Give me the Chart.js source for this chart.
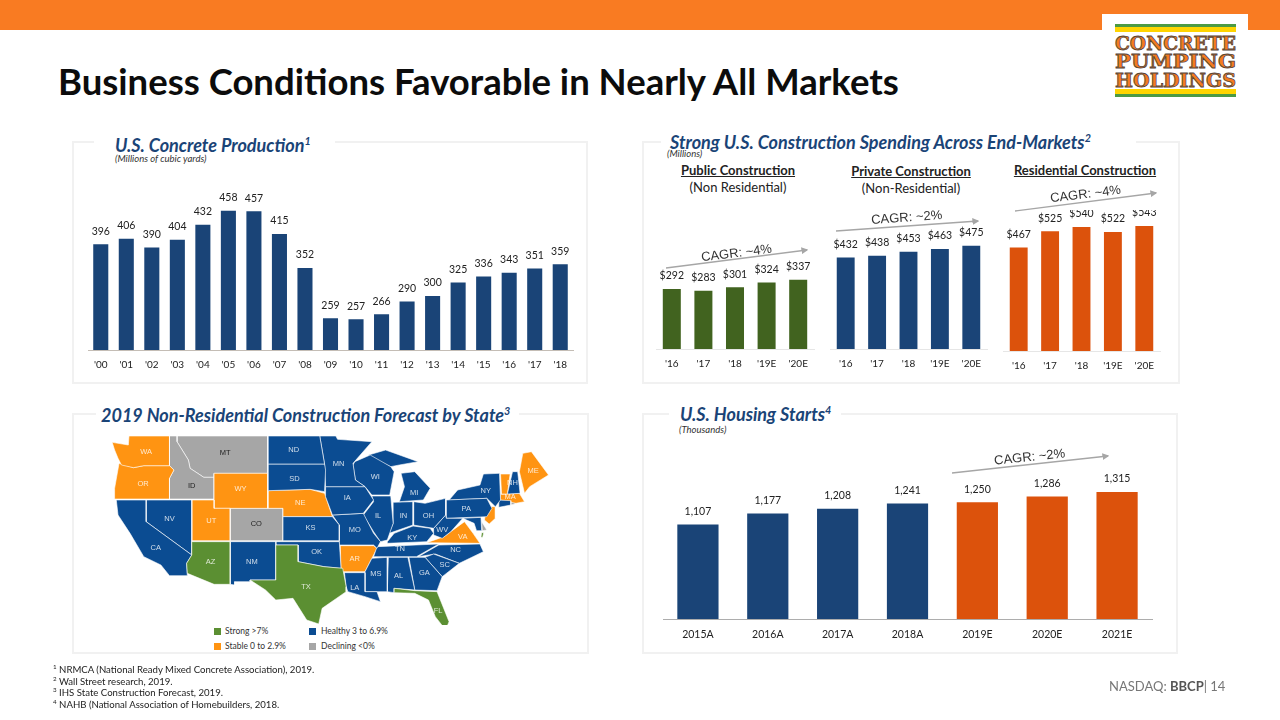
<!DOCTYPE html>
<html>
<head>
<meta charset="utf-8">
<title>Business Conditions Favorable in Nearly All Markets</title>
<script src="https://cdn.jsdelivr.net/npm/chart.js@4"></script>
<style>
  html, body { margin: 0; padding: 0; background: #fff; }
  #slide { position: relative; width: 1280px; height: 720px; overflow: hidden; font-family: Lato, sans-serif; color: #222; }
  #slide > * { position: absolute; }
  canvas { position: absolute; }
  .band { left: 0; top: 0; width: 1280px; height: 30px; background: #F97B22; }
  .panel { border: 2px solid #F1F1F1; box-sizing: border-box; }
  .gap { background: #fff; height: 6px; }
  h1 { margin: 0; left: 58px; top: 58px; font-size: 36.5px; font-weight: 700; color: #0c0c0c; white-space: nowrap; line-height: 46px; }
  .ptitle { font-weight: 700; font-style: italic; color: #1A4477; white-space: nowrap; line-height: 22px; font-size: 18px; }
  .ptitle sup { font-size: .6em; line-height: 0; }
  .unit { font-style: italic; font-size: 9.5px; color: #333; white-space: nowrap; line-height: 12px; }
  .sub { font-size: 13px; text-align: center; width: 170px; line-height: 16px; white-space: nowrap; }
  .sub.head { font-weight: 700; text-decoration: underline; font-size: 13px; }
  .sw { width: 7px; height: 7px; }
  .lg { font-size: 8.5px; line-height: 12px; white-space: nowrap; color: #333; }
  .foot { left: 53px; top: 664px; font-size: 9.6px; line-height: 11.6px; white-space: nowrap; color: #222; }
  .foot sup { font-size: .65em; line-height: 0; }
  .page { left: 1109px; top: 678px; font-size: 13px; line-height: 16px; color: #777; white-space: nowrap; }
  .page b { color: #555; }
</style>
</head>
<body>
<div id="slide">
  <div class="band"></div>
  <h1>Business Conditions Favorable in Nearly All Markets</h1>

  <svg style="left:1102px;top:14px" width="146" height="92" viewBox="1102 14 146 92">
    <rect x="1102" y="14" width="146" height="92" fill="#fff"/>
    <rect x="1115" y="24" width="121" height="3" fill="#4C9A44"/>
    <rect x="1115" y="27" width="121" height="5" fill="#FFD400"/>
    <rect x="1115" y="89" width="121" height="5" fill="#FFD400"/>
    <rect x="1115" y="94" width="121" height="3" fill="#4C9A44"/>
    <g font-family="'DejaVu Serif'" font-weight="700" font-size="19" fill="#F47B20" stroke="#54443A" stroke-width="0.8">
      <text x="1115" y="50" textLength="121" lengthAdjust="spacingAndGlyphs">CONCRETE</text>
      <text x="1115" y="68" textLength="121" lengthAdjust="spacingAndGlyphs">PUMPING</text>
      <text x="1115" y="87" textLength="121" lengthAdjust="spacingAndGlyphs">HOLDINGS</text>
    </g>
  </svg>

  <!-- panel frames, white gaps sit behind the headings -->
  <div class="panel" style="left:72px;top:141px;width:516px;height:243px"></div>
  <div class="gap" style="left:94px;top:138px;width:241px"></div>
  <div class="panel" style="left:642px;top:141px;width:538px;height:243px"></div>
  <div class="gap" style="left:661px;top:138px;width:475px"></div>
  <div class="panel" style="left:72px;top:413px;width:517px;height:241px"></div>
  <div class="gap" style="left:96px;top:410px;width:423px"></div>
  <div class="panel" style="left:642px;top:413px;width:536px;height:241px"></div>
  <div class="gap" style="left:669px;top:410px;width:172px"></div>

  <div class="ptitle" style="left:115px;top:134px">U.S. Concrete Production<sup>1</sup></div>
  <div class="unit" style="left:115px;top:153px">(Millions of cubic yards)</div>
  <div class="ptitle" style="left:670px;top:131px">Strong U.S. Construction Spending Across End-Markets<sup>2</sup></div>
  <div class="unit" style="left:667px;top:148px">(Millions)</div>
  <div class="sub head" style="left:653px;top:162px">Public Construction</div>
  <div class="sub" style="left:653px;top:179px">(Non Residential)</div>
  <div class="sub head" style="left:826px;top:163px">Private Construction</div>
  <div class="sub" style="left:826px;top:180px">(Non-Residential)</div>
  <div class="sub head" style="left:1000px;top:162px">Residential Construction</div>
  <div class="ptitle" style="left:101px;top:404px">2019 Non-Residential Construction Forecast by State<sup>3</sup></div>
  <div class="ptitle" style="left:680px;top:403px">U.S. Housing Starts<sup>4</sup></div>
  <div class="unit" style="left:679px;top:424px">(Thousands)</div>

  <canvas id="mapChart"></canvas>
  <canvas id="concreteChart"></canvas>
  <canvas id="publicChart"></canvas>
  <canvas id="privateChart"></canvas>
  <canvas id="residentialChart"></canvas>
  <canvas id="housingChart"></canvas>

  <div class="sw" style="left:214px;top:628px;background:#5B8F32"></div>
  <div class="lg" style="left:225px;top:625px">Strong &gt;7%</div>
  <div class="sw" style="left:309px;top:628px;background:#0B4C92"></div>
  <div class="lg" style="left:321px;top:625px">Healthy 3 to 6.9%</div>
  <div class="sw" style="left:214px;top:643px;background:#FF9412"></div>
  <div class="lg" style="left:225px;top:640px">Stable 0 to 2.9%</div>
  <div class="sw" style="left:309px;top:643px;background:#A6A6A6"></div>
  <div class="lg" style="left:321px;top:640px">Declining &lt;0%</div>

  <svg style="left:0;top:0" width="1280" height="720" id="cagr">
    <defs>
      <marker id="head" viewBox="0 0 10 10" refX="8" refY="5" markerWidth="7" markerHeight="7" markerUnits="userSpaceOnUse" orient="auto">
        <path d="M0 0 L10 5 L0 10 Z" fill="#A6A6A6"/>
      </marker>
    </defs>
    <g stroke="#A6A6A6" stroke-width="1.4" marker-end="url(#head)">
      <line x1="666" y1="268" x2="807" y2="250" marker-end="url(#head)"/>
      <line x1="836" y1="231" x2="978" y2="221" marker-end="url(#head)"/>
      <line x1="1015" y1="211" x2="1156" y2="193" marker-end="url(#head)"/>
      <line x1="952" y1="473" x2="1108" y2="456" marker-end="url(#head)"/>
    </g>
    <g font-family="'Liberation Sans Narrow','Liberation Sans'" font-size="13" fill="#333" text-anchor="middle">
      <text transform="translate(737 257) rotate(-7)">CAGR: ~4%</text>
      <text transform="translate(907 221.5) rotate(-4)">CAGR: ~2%</text>
      <text transform="translate(1086 198) rotate(-7)">CAGR: ~4%</text>
      <text transform="translate(1030 461) rotate(-6)">CAGR: ~2%</text>
    </g>
  </svg>

  <div class="foot"><sup>1</sup> NRMCA (National Ready Mixed Concrete Association), 2019.<br><sup>2</sup> Wall Street research, 2019.<br><sup>3</sup> IHS State Construction Forecast, 2019.<br><sup>4</sup> NAHB (National Association of Homebuilders, 2018.</div>
  <div class="page">NASDAQ: <b>BBCP</b>| 14</div>
</div>

<script>
// -----------------------------------------------------------------------
// Chart data
// -----------------------------------------------------------------------
const concreteYears = ["'00","'01","'02","'03","'04","'05","'06","'07","'08","'09","'10","'11","'12","'13","'14","'15","'16","'17","'18"];
const concreteValues = [396,406,390,404,432,458,457,415,352,259,257,266,290,300,325,336,343,351,359];

const spendingYears = ["'16","'17","'18","'19E","'20E"];
const publicValues = [292,283,301,324,337];
const privateValues = [432,438,453,463,475];
const residentialValues = [467,525,540,522,543];

const housingYears = ['2015A','2016A','2017A','2018A','2019E','2020E','2021E'];
const housingValues = [1107,1177,1208,1241,1250,1286,1315];

const strongStates = ['AZ','TX','FL','VAS'];
const healthyStates = ['CA','NV','NM','ND','SD','KS','OK','MN','IA','MO','LA','WI','IL','MIU','MI','IN','OH','KY','TN','MS','AL','GA','SC','NC','WV','PA','NY','MD','NH','CT'];
const stableStates = ['WA','OR','UT','WY','NE','AR','VA','NJ','VT','ME','MA'];
const decliningStates = ['ID','MT','CO','DE','RI'];

// State outlines, in map units
const stateOutlines = {
  WA: [[123,127],[170,135],[172,108],[290,108],[290,197],[215,197],[185,203],[150,195],[140,175],[130,150]],
  OR: [[143,190],[185,203],[215,197],[290,197],[303,210],[290,235],[290,297],[130,297],[130,265]],
  ID: [[290,108],[312,108],[312,125],[345,180],[350,205],[390,232],[420,232],[420,297],[290,297],[290,235],[303,210],[290,197]],
  MT: [[312,108],[576,108],[576,220],[420,220],[420,232],[390,232],[350,205],[345,180],[312,125]],
  WY: [[420,220],[576,220],[576,325],[420,325]],
  CA: [[135,300],[222,300],[222,365],[355,465],[340,490],[342,527],[290,527],[265,495],[215,470],[175,400],[140,345]],
  NV: [[222,300],[355,300],[355,465],[222,365]],
  UT: [[355,300],[420,300],[420,325],[467,325],[467,422],[355,422]],
  AZ: [[355,425],[467,425],[467,553],[420,553],[342,520],[340,490],[355,465]],
  CO: [[467,325],[621,325],[621,422],[467,422]],
  NM: [[467,425],[600,425],[600,540],[525,540],[525,545],[480,545],[480,555],[467,553]],
  ND: [[578,108],[728,108],[742,192],[578,192]],
  SD: [[578,192],[742,192],[745,210],[742,275],[700,268],[578,272]],
  NE: [[578,272],[700,268],[742,280],[765,350],[621,350],[621,325],[578,325]],
  KS: [[621,350],[765,350],[785,375],[785,422],[621,422]],
  OK: [[600,425],[785,425],[790,505],[740,500],[665,485],[665,435],[600,435]],
  TX: [[600,435],[665,435],[665,485],[740,500],[795,505],[805,560],[805,575],[735,625],[725,672],[690,660],[650,595],[600,600],[570,570],[525,540],[600,540]],
  MN: [[728,108],[775,108],[780,118],[880,125],[825,190],[832,240],[860,260],[745,260],[742,192]],
  IA: [[745,260],[860,260],[885,300],[855,340],[765,345],[745,290]],
  MO: [[765,345],[855,340],[885,400],[905,425],[895,445],[885,435],[785,435],[785,375]],
  AR: [[788,437],[885,437],[895,445],[860,515],[790,515]],
  LA: [[800,518],[860,518],[860,575],[895,575],[905,605],[860,590],[810,575],[805,560]],
  WI: [[830,185],[875,165],[935,200],[945,215],[932,285],[880,285],[860,260],[832,240],[825,195]],
  IL: [[880,288],[935,288],[942,370],[925,420],[905,425],[885,395],[855,345],[885,305]],
  MIU: [[870,165],[920,150],[1015,185],[960,195],[935,200],[890,180]],
  MI: [[965,220],[1005,215],[1050,265],[1030,300],[960,305],[975,260]],
  IN: [[942,307],[1000,305],[1000,375],[930,400],[942,370]],
  OH: [[1002,305],[1035,310],[1095,295],[1095,345],[1060,385],[1000,375]],
  KY: [[925,425],[945,400],[1000,378],[1050,385],[1060,400],[1040,425],[925,430]],
  TN: [[895,440],[1075,432],[1010,470],[885,470]],
  MS: [[880,475],[925,472],[925,575],[860,575],[860,515]],
  AL: [[928,472],[985,472],[1005,570],[945,565],[945,578],[925,575]],
  GA: [[988,472],[1035,472],[1085,530],[1070,572],[1005,570]],
  FL: [[945,565],[1005,572],[1070,575],[1105,665],[1095,690],[1065,650],[1045,600],[1005,580],[945,578]],
  SC: [[1035,472],[1060,462],[1135,490],[1085,530]],
  NC: [[1015,470],[1075,435],[1195,432],[1205,455],[1135,490],[1065,462]],
  VA: [[1040,428],[1090,410],[1150,365],[1175,400],[1195,430]],
  VAS: [[1200,398],[1206,398],[1203,412],[1198,412]],
  WV: [[1060,385],[1095,345],[1097,355],[1145,355],[1110,395],[1085,415],[1060,405]],
  PA: [[1097,300],[1215,295],[1230,325],[1215,350],[1097,355]],
  NY: [[1130,270],[1195,255],[1205,222],[1252,220],[1255,300],[1240,320],[1215,295],[1105,300]],
  NJ: [[1215,320],[1240,320],[1240,355],[1222,372],[1208,360]],
  MD: [[1145,355],[1198,352],[1200,392],[1185,392],[1178,370]],
  DE: [[1200,365],[1215,390],[1202,392]],
  VT: [[1255,222],[1283,222],[1275,282],[1258,282]],
  NH: [[1290,215],[1305,215],[1312,280],[1275,282]],
  ME: [[1310,215],[1320,160],[1345,155],[1395,225],[1340,260],[1325,280]],
  MA: [[1255,283],[1310,280],[1325,305],[1300,310],[1255,300]],
  CT: [[1250,300],[1285,302],[1285,315],[1250,322]],
  RI: [[1285,302],[1298,302],[1297,312],[1285,315]],
};

const stateLabels = ['WA','OR','CA','NV','ID','MT','WY','UT','AZ','CO','NM','ND','SD','NE','KS','OK','TX','MN','IA','MO','AR','LA','WI','IL','MI','IN','OH','KY','TN','MS','AL','GA','FL','SC','NC','VA','WV','PA','NY','NH','ME','MA'];
const stateLabelX = [222,213,250,290,355,452,497,412,410,543,530,652,654,671,701,719,688,783,808,830,830,830,890,898,1003,972,1045,998,962,892,958,1033,1073,1092,1124,1145,1085,1155,1212,1290,1350,1283];
const stateLabelY = [155,252,445,357,258,158,268,363,485,373,486,150,237,310,385,456,561,192,295,390,477,565,232,348,278,347,347,414,448,522,528,519,634,495,450,412,390,328,272,250,212,290];
const darkLabels = ['ID','MT','CO'];

// -----------------------------------------------------------------------
// Bar chart helper
// -----------------------------------------------------------------------
const NAVY = '#1A4477';
const BURNT = '#DC520C';
const OLIVE = '#41631F';

// Prints the value a fixed distance above each bar
const valueLabels = {
  id: 'valueLabels',
  afterDatasetsDraw(chart, args, opts) {
    const { ctx } = chart;
    const meta = chart.getDatasetMeta(0);
    ctx.save();
    ctx.font = opts.font;
    ctx.fillStyle = '#222';
    ctx.textAlign = 'center';
    ctx.textBaseline = 'middle';
    meta.data.forEach((bar, i) => {
      ctx.fillText(opts.format(chart.data.datasets[0].data[i]), bar.x, bar.y - opts.gap);
    });
    ctx.restore();
  },
};

function barChart(id, labels, values, o) {
  const el = document.getElementById(id);
  const pad = 8;
  el.width = o.right - o.left + pad * 2;
  el.height = o.bottom - o.top;
  el.style.left = (o.left - pad) + 'px';
  el.style.top = o.top + 'px';
  return new Chart(el, {
    type: 'bar',
    data: {
      labels,
      datasets: [{ data: values, backgroundColor: o.colors, categoryPercentage: 1, barPercentage: o.barPct }],
    },
    plugins: [valueLabels],
    options: {
      responsive: false,
      animation: false,
      layout: { padding: { left: pad, right: pad, top: 0, bottom: 0 } },
      plugins: {
        legend: { display: false },
        tooltip: { enabled: false },
        valueLabels: { font: o.labelFont || '10.5px Lato', format: o.format || String, gap: 13 },
      },
      scales: {
        y: { display: false, min: o.min, max: o.max },
        x: {
          afterFit(scale) { scale.height = o.bottom - o.baseline; },
          grid: { display: false, drawTicks: false },
          border: { display: true, color: o.axisColor, width: 1 },
          ticks: { color: '#222', font: { family: 'Lato', size: o.tickSize || 10 }, padding: 9, maxRotation: 0, autoSkip: false },
        },
      },
    },
  });
}

const dollars = (v) => '$' + v;
const thousands = (v) => v.toLocaleString('en-US');

barChart('concreteChart', concreteYears, concreteValues, {
  left: 88, right: 573, top: 188, baseline: 350, bottom: 384, min: 200, max: 500,
  barPct: 0.59, colors: NAVY, axisColor: '#C4BDB5',
});
barChart('publicChart', spendingYears, publicValues, {
  left: 656, right: 814, top: 236, baseline: 349, bottom: 384, min: 0, max: 550,
  barPct: 0.57, colors: OLIVE, axisColor: '#E6E6E6', format: dollars,
});
barChart('privateChart', spendingYears, privateValues, {
  left: 830, right: 987, top: 225, baseline: 349, bottom: 384, min: 100, max: 550,
  barPct: 0.57, colors: NAVY, axisColor: '#E6E6E6', format: dollars,
});
barChart('residentialChart', spendingYears, residentialValues, {
  left: 1003, right: 1160, top: 210, baseline: 351, bottom: 384, min: 100, max: 600,
  barPct: 0.57, colors: BURNT, axisColor: '#E6E6E6', format: dollars,
});
barChart('housingChart', housingYears, housingValues, {
  left: 663, right: 1152, top: 471, baseline: 619, bottom: 654, min: 500, max: 1450,
  barPct: 0.59, colors: [NAVY, NAVY, NAVY, NAVY, BURNT, BURNT, BURNT], axisColor: '#ADADAD', format: thousands, tickSize: 10.5,
});

// -----------------------------------------------------------------------
// State map: one closed, filled scatter line per state
// -----------------------------------------------------------------------
const mapColors = { strong: '#5B8F32', healthy: '#0B4C92', stable: '#FF9412', declining: '#A6A6A6' };
const mapGroups = [[strongStates, mapColors.strong], [healthyStates, mapColors.healthy], [stableStates, mapColors.stable], [decliningStates, mapColors.declining]];

const mapDatasets = [];
for (const [states, color] of mapGroups) {
  for (const st of states) {
    const pts = stateOutlines[st].map(([x, y]) => ({ x, y }));
    pts.push(pts[0]);
    mapDatasets.push({
      label: st, data: pts, showLine: true, fill: 'shape', tension: 0,
      backgroundColor: color, borderColor: 'rgba(255,255,255,0.75)', borderWidth: 0.8, pointRadius: 0,
    });
  }
}

const mapLabels = {
  id: 'mapLabels',
  afterDatasetsDraw(chart) {
    const { ctx, scales } = chart;
    ctx.save();
    ctx.font = '7.5px "Liberation Sans"';
    ctx.textAlign = 'center';
    ctx.textBaseline = 'middle';
    stateLabels.forEach((st, i) => {
      ctx.fillStyle = darkLabels.includes(st) ? '#222' : 'rgba(255,255,255,0.8)';
      ctx.fillText(st, scales.x.getPixelForValue(stateLabelX[i]), scales.y.getPixelForValue(stateLabelY[i]));
    });
    ctx.restore();
  },
};

const mapEl = document.getElementById('mapChart');
mapEl.width = 530;
mapEl.height = 225;
mapEl.style.left = '70px';
mapEl.style.top = '400px';
new Chart(mapEl, {
  type: 'scatter',
  data: { datasets: mapDatasets },
  plugins: [mapLabels],
  options: {
    responsive: false,
    animation: false,
    plugins: { legend: { display: false }, tooltip: { enabled: false } },
    scales: {
      x: { display: false, min: 0, max: 1545 },
      y: { display: false, min: 0, max: 675, reverse: true },
    },
  },
});
</script>
</body>
</html>
